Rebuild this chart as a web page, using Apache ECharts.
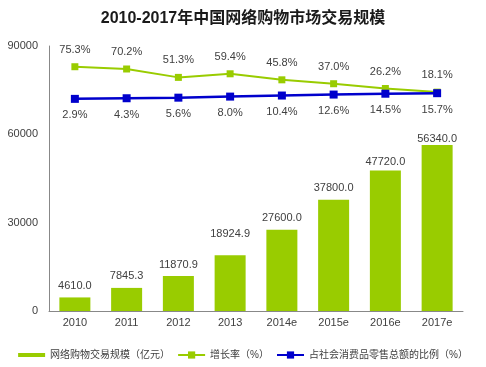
<!DOCTYPE html>
<html>
<head>
<meta charset="utf-8">
<script src="https://cdn.jsdelivr.net/npm/echarts@6/dist/echarts.min.js"></script>
<style>html,body{margin:0;padding:0;background:#fff}#c{width:486px;height:367px}</style>
</head>
<body>
<div id="c"></div>
<script>
const titleText = '2010-2017年中国网络购物市场交易规模';
const categories = ['2010', '2011', '2012', '2013', '2014e', '2015e', '2016e', '2017e'];
const tradeScale = [4610.0, 7845.3, 11870.9, 18924.9, 27600.0, 37800.0, 47720.0, 56340.0];
const growthRate = [75.3, 70.2, 51.3, 59.4, 45.8, 37.0, 26.2, 18.1];
const retailShare = [2.9, 4.3, 5.6, 8.0, 10.4, 12.6, 14.5, 15.7];
const seriesNames = ['网络购物交易规模（亿元）', '增长率（%）', '占社会消费品零售总额的比例（%）'];

const FONT = "'Liberation Sans', 'Noto Sans CJK SC', sans-serif";
const TXT = '#404040';
const GREEN = '#99CC00';
const BLUE = '#0000CC';

// small manual label nudges, as in the reference
const barLabelDist = {3: 16, 6: 3, 7: 1};

const chart = echarts.init(document.getElementById('c'), null, {renderer: 'canvas'});
chart.setOption({
  animation: false,
  textStyle: {fontFamily: FONT},
  title: {
    text: titleText, left: 'center', top: 6,
    textStyle: {fontSize: 16, fontWeight: 'bold', color: '#1a1a1a', fontFamily: FONT}
  },
  grid: {left: 49, right: 23, top: 46, bottom: 56, containLabel: false},
  legend: {
    top: 345, left: 'center', itemWidth: 27, itemHeight: 9, itemGap: 7,
    textStyle: {fontSize: 10, color: TXT, fontFamily: FONT},
    data: [
      {name: seriesNames[0], icon: 'path://M0,0H27V4H0Z'},
      {name: seriesNames[1]},
      {name: seriesNames[2]}
    ]
  },
  xAxis: {
    type: 'category', data: categories,
    axisLine: {lineStyle: {color: '#888', width: 1}},
    axisTick: {show: false},
    axisLabel: {color: TXT, fontSize: 11, margin: 6, fontFamily: FONT}
  },
  yAxis: [
    {type: 'value', min: 0, max: 90000, interval: 30000,
     axisLine: {show: true, lineStyle: {color: '#888'}},
     axisTick: {show: false}, splitLine: {show: false},
     axisLabel: {color: TXT, fontSize: 11, margin: 11, fontFamily: FONT,
                 formatter: v => String(v)}},
    {type: 'value', min: -475, max: 122, show: false, splitLine: {show: false}}
  ],
  series: [
    {
      name: seriesNames[0], type: 'bar', barWidth: 31,
      itemStyle: {color: GREEN},
      data: tradeScale.map((v, i) => ({
        value: v,
        label: {distance: barLabelDist[i] !== undefined ? barLabelDist[i] : 6}
      })),
      label: {show: true, position: 'top', color: TXT, fontSize: 11, fontFamily: FONT,
              formatter: p => p.value.toFixed(1)}
    },
    {
      name: seriesNames[1], type: 'line', yAxisIndex: 1, data: growthRate,
      symbol: 'rect', symbolSize: 7,
      lineStyle: {color: GREEN, width: 2}, itemStyle: {color: GREEN},
      label: {show: true, position: 'top', distance: 8, color: TXT, fontSize: 11, fontFamily: FONT,
              formatter: p => p.value.toFixed(1) + '%'},
      z: 3
    },
    {
      name: seriesNames[2], type: 'line', yAxisIndex: 1, data: retailShare,
      symbol: 'rect', symbolSize: 8,
      lineStyle: {color: BLUE, width: 2.5}, itemStyle: {color: BLUE},
      label: {show: true, position: 'bottom', distance: 7, color: TXT, fontSize: 11, fontFamily: FONT,
              formatter: p => p.value.toFixed(1) + '%'},
      z: 4
    }
  ]
});
</script>
</body>
</html>
